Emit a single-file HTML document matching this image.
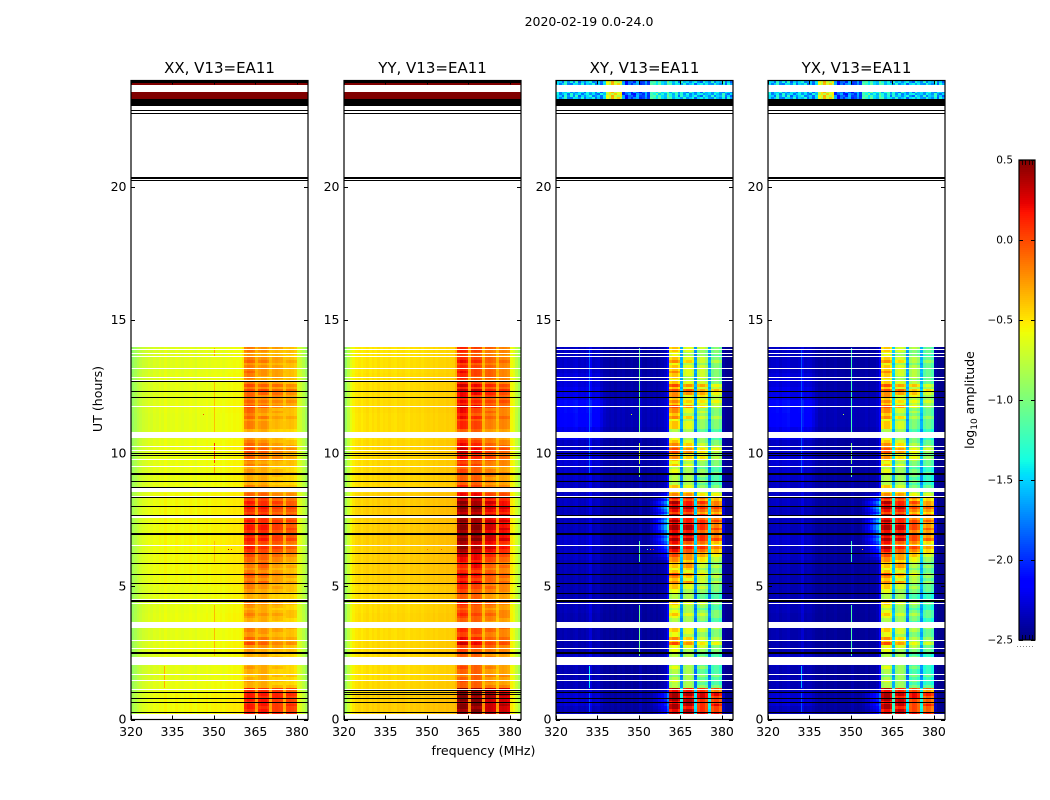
<!DOCTYPE html>
<html lang="en">
<head>
<meta charset="utf-8">
<title>2020-02-19 V13=EA11 waterfall</title>
<style>
html,body{margin:0;padding:0;background:#fff;width:1050px;height:800px;overflow:hidden}
svg{display:block}
text{font-family:"DejaVu Sans","Liberation Sans",sans-serif;fill:#000}
</style>
</head>
<body>
<svg id="figure" width="1050" height="800" viewBox="0 0 1050 800">
  <rect x="0" y="0" width="1050" height="800" fill="#fff"/>
  <text x="589" y="26" font-size="12.5" text-anchor="middle">2020-02-19 0.0-24.0</text>
  <text x="483.5" y="755" font-size="12.6" text-anchor="middle">frequency (MHz)</text>
  <text x="0" y="0" font-size="12.6" text-anchor="middle" transform="translate(102,399) rotate(-90)">UT (hours)</text>
  <text x="0" y="0" font-size="12.5" text-anchor="middle" transform="translate(974,400) rotate(-90)">log<tspan font-size="9" dy="3">10</tspan><tspan dy="-3"> amplitude</tspan></text>
  <g id="panels"></g>
  <g id="colorbar"></g>
</svg>
<script>
// ---- Tick labels ----
const xTicks = [320, 335, 350, 365, 380];
const yTicks = [0, 5, 10, 15, 20];
const colorbarTicks = [0.5, 0, -0.5, -1, -1.5, -2, -2.5];

// ---- Sub-band of each 1 MHz channel: -1 quiet, -2 gap between sub-bands, 0..3 sub-band ----
const channelBlock = [
 -1,-1,-1,-1,-1,-1,-1,-1,-1,-1,-1,-1,-1,-1,-1,-1,-1,-1,-1,-1,
 -1,-1,-1,-1,-1,-1,-1,-1,-1,-1,-1,-1,-1,-1,-1,-1,-1,-1,-1,-1,
 -1,0,0,0,0,-2,1,1,1,1,-2,2,2,2,2,-2,3,3,3,3,-1,-1,-1,-1];

// ---- Time-averaged spectrum (log10 amplitude) per channel ----
const spectrumXX = [
 -.88,-.82,-.76,-.72,-.68,-.66,-.63,-.66,-.62,-.64,
 -.60,-.63,-.58,-.62,-.60,-.61,-.58,-.60,-.62,-.59,
 -.60,-.58,-.60,-.62,-.58,-.60,-.59,-.57,-.60,-.58,
 -.57,-.58,-.56,-.58,-.56,-.55,-.56,-.54,-.55,-.54,
 -.50,-.60,-.54,-.56,-.60,-.46,-.58,-.54,-.54,-.60,
 -.50,-.60,-.58,-.60,-.62,-.52,-.62,-.60,-.62,-.66,
 -.64,-.68,-.76,-.86];
const spectrumYY = [
 -.88,-.74,-.60,-.53,-.49,-.47,-.50,-.47,-.45,-.48,
 -.45,-.47,-.44,-.47,-.45,-.46,-.44,-.46,-.47,-.44,
 -.45,-.44,-.46,-.47,-.44,-.45,-.44,-.43,-.45,-.43,
 -.42,-.43,-.41,-.43,-.41,-.41,-.42,-.40,-.41,-.40,
 -.34,-.40,-.34,-.36,-.40,-.46,-.38,-.34,-.36,-.40,
 -.48,-.46,-.44,-.46,-.50,-.50,-.48,-.46,-.48,-.52,
 -.54,-.60,-.72,-.84];
const spectrumXY = [
 -2.42,-2.40,-2.42,-2.38,-2.40,-2.42,-2.40,-2.38,-2.42,-2.40,
 -2.42,-2.38,-2.30,-2.42,-2.40,-2.38,-2.42,-2.44,-2.42,-2.44,
 -2.42,-2.45,-2.42,-2.44,-2.42,-2.45,-2.44,-2.42,-2.45,-2.44,
 -2.38,-2.44,-2.45,-2.42,-2.44,-2.42,-2.45,-2.42,-2.40,-2.36,
 -2.10,-1.48,-1.38,-1.38,-1.52,-1.92,-1.50,-1.42,-1.42,-1.54,
 -1.98,-1.58,-1.48,-1.50,-1.62,-1.95,-1.64,-1.55,-1.55,-1.68,
 -2.40,-2.45,-2.46,-2.46];
const spectrumYX = [
 -2.42,-2.40,-2.40,-2.38,-2.42,-2.40,-2.40,-2.38,-2.42,-2.42,
 -2.42,-2.40,-2.32,-2.42,-2.40,-2.40,-2.42,-2.44,-2.44,-2.44,
 -2.42,-2.45,-2.44,-2.44,-2.42,-2.45,-2.44,-2.44,-2.45,-2.44,
 -2.40,-2.44,-2.45,-2.44,-2.44,-2.42,-2.45,-2.42,-2.42,-2.38,
 -2.15,-1.50,-1.40,-1.40,-1.54,-1.80,-1.54,-1.46,-1.48,-1.60,
 -1.95,-1.66,-1.56,-1.58,-1.70,-1.90,-1.74,-1.64,-1.66,-1.78,
 -2.40,-2.45,-2.46,-2.46];

// ---- RFI strength (0-9) per 0.1 h row, hours 0 to 14, one array per sub-band ----
const levelsBlockA = [
 9,9,9,8,9,9,8,9,9,9, 8,9,3,3,4,3,2,3,3,4, 3,3,3,3,3,4,4,4,7,5, 6,4,4,5,5,4,3,3,4,5,
 4,3,4,5,4,3,3,4,4,5, 5,6,5,6,7,5,4,5,5,6, 6,7,7,8,9,7,8,9,8,9, 8,9,9,8,9,8,9,7,8,9,
 8,9,7,8,6,5,4,5,3,3, 3,3,4,4,3,5,4,5,6,5, 7,7,6,6,5,4,4,4,3,5, 5,5,4,6,5,6,6,7,5,6,
 5,6,6,7,5,7,5,4,5,5, 6,5,5,4,6,5,4,4,5,5];
const levelsBlockB = [
 9,9,9,9,8,9,9,9,8,9, 8,8,3,3,3,3,3,3,3,3, 3,3,3,3,3,3,3,4,6,5, 5,3,4,4,4,4,3,3,3,4,
 3,3,3,4,4,3,3,3,3,4, 4,6,4,5,6,4,5,6,6,5, 6,6,7,7,8,6,7,9,8,9, 8,9,9,8,8,8,9,7,8,9,
 8,8,7,8,6,5,3,4,3,3, 3,3,3,3,3,4,3,4,5,4, 6,6,5,5,4,3,3,3,3,4, 4,4,3,5,3,4,4,6,4,5,
 4,4,6,7,4,6,4,3,3,4, 4,4,4,3,5,4,3,3,4,4];
const levelsBlockC = [
 8,9,9,8,8,8,8,8,9,9, 8,8,3,2,3,2,3,2,2,3, 2,3,3,3,2,3,3,4,5,4, 4,3,3,4,4,3,2,3,3,4,
 3,2,3,4,3,2,2,3,3,4, 3,4,4,4,5,4,3,4,4,5, 5,6,6,7,8,6,7,8,8,8, 7,8,8,8,8,7,8,6,7,8,
 7,8,6,7,5,4,3,3,2,3, 2,3,3,3,2,3,3,4,5,4, 5,5,4,4,3,3,3,3,2,3, 3,3,3,4,3,4,3,5,4,5,
 4,5,6,6,4,6,4,3,4,4, 4,4,4,3,4,4,3,3,3,4];
const levelsBlockD = [
 8,8,9,8,8,9,8,8,8,9, 7,8,3,2,2,2,3,2,2,2, 2,2,3,2,2,3,3,3,5,4, 4,3,3,3,4,3,2,2,3,3,
 3,2,2,3,3,2,2,2,3,3, 3,4,3,4,4,3,3,4,3,4, 4,5,6,6,7,5,6,8,7,7, 7,8,7,7,8,7,8,6,7,8,
 7,7,6,6,5,4,2,3,2,2, 2,2,3,2,2,3,3,3,4,3, 4,5,4,3,3,2,2,3,2,3, 3,3,3,4,3,3,3,4,4,5,
 4,4,5,6,4,5,3,3,3,3, 3,3,3,3,4,3,2,3,3,3];

// ---- Slow drift of the quiet band per 0.5 h bin, hours 0 to 14 ----
const driftParallel = [.03,.03,0,-.02,-.02,0,-.02,0,-.01,0,.02,.03,.03,.04,.03,.04,.03,0,0,0,0,-.02,-.02,-.01,-.02,-.02,-.03,-.04];
const driftCross = [.06,.12,.05,.04,.08,.03,.03,.03,.05,.04,.04,.05,.08,.10,.06,.06,.08,.08,.10,.12,.08,.18,.26,.28,.18,.14,.10,.08];

// ---- How much each channel follows the drift ----
const driftWeightCross = [
 1,1,1,1,1,1.1,1.1,1.1,1,1, 1,1,1,1,1,.9,.7,.5,.3,.3,
 .3,.3,.3,.3,.3,.3,.3,.3,.3,.3, .3,.3,.3,.3,.3,.3,.3,.3,.3,.3,
 0,0,0,0,0,0,0,0,0,0, 0,0,0,0,0,0,0,0,0,0, 0,0,0,0];
const driftWeightParallel = [
 1,1,1,1,1,1,1,1,1,1, 1,1,1,1,1,1,1,1,1,1,
 1,1,1,1,1,1,1,1,1,1, 1,1,1,1,1,1,1,1,1,1,
 0,0,0,0,0,0,0,0,0,0, 0,0,0,0,0,0,0,0,0,0, 1,1,1,1];

// ---- Leakage into channels below the band during strong RFI ----
const tailCross = [
 0,0,0,0,0,0,0,0,0,0, 0,0,0,0,0,0,0,0,0,0,
 0,0,0,0,0,0,0,0,0,0, 0,0,0,0,.02,.04,.07,.10,.14,.18,
 .22,0,0,0,0,0,0,0,0,0, 0,0,0,0,0,0,0,0,0,0, .04,0,0,0];
const tailStrengthByHalfHour = [.3,.4,.1,0,0,0,0,0,0,0,0,.1,.5,.8,1,1,.8,.2,0,0,0,0,0,0,0,0,0,0];

// ---- Late-day calibrator scans, 23.3 to 24 h ----
const topSpectrumParallel = [
 .5,.5,.5,.5,.5,.5,.5,.5,.5,.5,.5,.5,.5,.5,.5,.5,.5,.5,.5,.5,.5,.5,.5,.5,.5,.5,.5,.5,.5,.5,.5,.5,
 .5,.5,.5,.5,.5,.5,.5,.5,.5,.5,.5,.5,.5,.5,.5,.5,.5,.5,.5,.5,.5,.5,.5,.5,.5,.5,.5,.5,.5,.5,.5,.5];
const topSpectrumCross = [
 -1.6,-1.55,-1.6,-1.5,-1.6,-1.55,-1.6,-1.5,-1.6,-1.55,-1.6,-1.6,-1.55,-1.6,-1.65,-1.6,-1.6,-1.6,
 -.62,-.6,-.55,-.62,-.6,-.65,
 -1.85,-1.9,-1.85,-1.9,-1.85,-1.8,-1.85,-1.9,-1.8,-1.75,
 -1.3,-1.35,-1.3,-1.35,-1.4,-1.35,-1.3,-1.4,-1.4,-1.45,
 -1.55,-1.5,-1.55,-1.6,-1.5,-1.55,-1.6,-1.55,-1.6,-1.5,-1.55,-1.6,-1.5,-1.55,-1.6,-1.55,-1.5,-1.6,-1.55,-1.6];
const topNoise = [
 .2,-.3,.1,.35,-.2,-.35,.25,.05,-.15,.3,-.3,.15,-.05,.35,-.25,.1,-.35,.2,
 .05,-.3,.3,-.1,.25,-.2,.35,-.35,.1,-.15,.2,.3,-.25,-.05,.15,-.3,
 .25,.1,-.2,.35,-.1,-.35,.2,.3,-.3,.05,.15,-.25,.35,-.15,-.05,.25,
 -.35,.1,.3,-.2,.2,-.1,-.3,.35,.05,-.25,.15,-.35,.3,-.05];
const topShifts = [0,17,41,9,29,52,23];

// ---- Hours with no data (white) and flagged scans (black) ----
const whiteLines = [13.93,13.78,13.64,13.21,12.88,12.76,11.79,10.29,10.14,9.80,9.53,8.41,6.57,4.52,4.39,3.00,2.70,1.71,1.16];
const whiteBands = [[10.59,10.78],[8.54,8.69],[7.58,7.65],[3.45,3.65],[2.05,2.35],[1.45,1.49],[0,0.2]];
const blackLinesParallel = [12.70,12.35,12.10,10.00,9.93,9.27,9.22,8.94,8.72,8.36,8.01,7.67,7.38,7.01,6.95,6.24,5.87,5.45,5.11,4.74,1.02,0.80,0.65,0.29];
const blackLinesCross = [12.35,12.10,10.00,9.93,9.27,9.22,8.94,8.36,8.01,7.67,7.38,7.01,6.95,6.24,5.87,5.45,5.11,4.74,1.02,0.80,0.65,0.29];
const blackLinesExtraYY = [1.10,0.95];
const blackBands = [[4.41,4.47],[2.47,2.54],[23.05,23.29],[20.30,20.37],[20.21,20.26],[22.86,22.90],[22.75,22.78]];
const topParallelBands = [[23.83,23.92],[23.29,23.58]];
const topCrossBands = [[23.83,23.99],[23.29,23.58]];
const topBlackParallel = [[23.91,24]];
const calibrationLine = [0.22];

// ---- Narrow-band spikes: channel, start hour, end hour, log10 amplitude ----
const spikesXX = [[30,9.65,10.4,.05],[30,9.2,9.55,-.28],[30,10.8,12.75,-.38],[30,13.6,13.97,-.3],[30,5.9,6.7,-.38],[30,2.4,4.3,-.36],[12,1.2,2,-.34],[26,11.42,11.48,0],[35,6.35,6.42,.38],[36,6.35,6.42,.1]];
const spikesYY = [[35,6.35,6.42,-.1],[30,6.35,6.42,-.15]];
const spikesXY = [[30,10.8,13.95,-1.05],[30,9.6,10.4,-.75],[30,9.1,9.5,-.95],[30,2.4,4.3,-1.05],[30,5.9,6.7,-1.1],[12,9.2,13.9,-1.85],[12,1.2,2,-1.45],[12,0.3,1,-1.9],[27,11.42,11.48,-.6],[34,6.35,6.42,-.1],[33,6.35,6.42,-1.2],[35,6.35,6.42,.2]];
const spikesYX = [[30,10.8,13.95,-1.2],[30,9.6,10.4,-.95],[30,9.1,9.5,-1.1],[30,2.4,4.3,-1.15],[30,5.9,6.7,-1.2],[12,9.2,13.9,-1.9],[12,1.2,2,-1.6],[12,0.3,1,-1.9],[27,11.42,11.48,-.8],[34,6.35,6.42,-.4]];

// ---- Panels ----
const panels = [
 {key:'xx', title:'XX, V13=EA11', left:131, spectrum:spectrumXX, slope:.08, drift:driftParallel, driftWeight:driftWeightParallel, tail:null, top:topSpectrumParallel, noise:0, topBands:topParallelBands, topBlack:topBlackParallel, black:blackLinesParallel, spikes:spikesXX},
 {key:'yy', title:'YY, V13=EA11', left:344, spectrum:spectrumYY, slope:.095, drift:driftParallel, driftWeight:driftWeightParallel, tail:null, top:topSpectrumParallel, noise:0, topBands:topParallelBands, topBlack:topBlackParallel, black:blackLinesParallel.concat(blackLinesExtraYY), spikes:spikesYY},
 {key:'xy', title:'XY, V13=EA11', left:556, spectrum:spectrumXY, slope:.2, drift:driftCross, driftWeight:driftWeightCross, tail:tailCross, top:topSpectrumCross, noise:.7, topBands:topCrossBands, topBlack:[], black:blackLinesCross, spikes:spikesXY},
 {key:'yx', title:'YX, V13=EA11', left:768, spectrum:spectrumYX, slope:.2, drift:driftCross, driftWeight:driftWeightCross, tail:tailCross, top:topSpectrumCross, noise:.7, topBands:topCrossBands, topBlack:[], black:blackLinesCross, spikes:spikesYX}
];
const levelsByBlock = [levelsBlockA, levelsBlockB, levelsBlockC, levelsBlockD];

// ---- Axis functions ----
const NS = 'http://www.w3.org/2000/svg';
const panelWidth = 177, plotTop = 80.5, plotBottom = 719.5;
const mhzMin = 320, mhzMax = 384, hourMax = 24;
const xScale = (panel, mhz) => panel.left + (mhz - mhzMin) / (mhzMax - mhzMin) * panelWidth;
const yScale = h => plotBottom - h / hourMax * (plotBottom - plotTop);
const vMin = -2.5, vMax = 0.5;

function ramp(t, pts) {
  for (let i = 1; i < pts.length; i++) {
    if (t <= pts[i][0]) {
      const a = pts[i - 1], b = pts[i];
      return a[1] + (b[1] - a[1]) * (t - a[0]) / (b[0] - a[0]);
    }
  }
  return pts[pts.length - 1][1];
}
function jet(v) {
  const t = Math.max(0, Math.min(1, (v - vMin) / (vMax - vMin)));
  const r = ramp(t, [[0,0],[.35,0],[.66,1],[.89,1],[1,.5]]);
  const g = ramp(t, [[0,0],[.125,0],[.375,1],[.64,1],[.91,0],[1,0]]);
  const b = ramp(t, [[0,.5],[.11,1],[.34,1],[.65,0],[1,0]]);
  return 'rgb(' + Math.round(r * 255) + ',' + Math.round(g * 255) + ',' + Math.round(b * 255) + ')';
}
function cellValue(panel, row, ch) {
  const block = channelBlock[ch];
  const base = panel.spectrum[ch];
  if (block >= 0) return base + panel.slope * levelsByBlock[block][row];
  if (block === -2) return base + 0.3 * panel.slope * levelsBlockA[row];
  const bin = Math.floor(row / 5);
  let v = base + panel.drift[bin] * panel.driftWeight[ch];
  if (panel.tail) v += panel.tail[ch] * tailStrengthByHalfHour[bin] * Math.max(0, levelsBlockA[row] - 5);
  return v;
}
function rectBetween(el, x0, x1, y0, y1, fill) {
  const ax = Math.round(x0), bx = Math.round(x1), ay = Math.round(y0), by = Math.round(y1);
  el.setAttribute('x', ax);
  el.setAttribute('y', ay);
  el.setAttribute('width', Math.max(1, bx - ax));
  el.setAttribute('height', Math.max(1, by - ay));
  el.setAttribute('fill', fill);
}

const panelsRoot = document.getElementById('panels');
panels.forEach(function (panel) {
  const left = xScale(panel, mhzMin), right = xScale(panel, mhzMax);
  const g = document.createElementNS(NS, 'g');
  
  

  const heat = document.createElementNS(NS, 'g');
  
  
  heat.setAttribute('shape-rendering', 'crispEdges');

  // Main cells: hours 0 to 14
  for (let row = 0; row < levelsBlockA.length; row++) {
    const h0 = row * 0.1, h1 = h0 + 0.1;
    for (let ch = 0; ch < panel.spectrum.length; ch++) {
      const cell = document.createElementNS(NS, 'rect');
      
      
      rectBetween(cell, xScale(panel, mhzMin + ch), xScale(panel, mhzMin + ch + 1), yScale(h1), yScale(h0), jet(cellValue(panel, row, ch)));
      heat.appendChild(cell);
    }
  }
  // Late-day scans
  panel.topBands.forEach(function (band) {
    let shiftIndex = 0;
    for (let h = band[0]; h < band[1] - 0.001; h += 0.08) {
      const shift = topShifts[shiftIndex++ % topShifts.length];
      const hEnd = Math.min(band[1], h + 0.08);
      for (let ch = 0; ch < panel.top.length; ch++) {
        const cell = document.createElementNS(NS, 'rect');
        
        
        const v = panel.top[ch] + panel.noise * topNoise[(ch + shift) % topNoise.length];
        rectBetween(cell, xScale(panel, mhzMin + ch), xScale(panel, mhzMin + ch + 1), yScale(hEnd), yScale(h), jet(v));
        heat.appendChild(cell);
      }
    }
  });
  // Spikes
  panel.spikes.forEach(function (s) {
    const spike = document.createElementNS(NS, 'rect');
    
    
    rectBetween(spike, xScale(panel, mhzMin + s[0]), xScale(panel, mhzMin + s[0]) + 1, yScale(s[2]), yScale(s[1]), jet(s[3]));
    heat.appendChild(spike);
  });
  // Calibration line
  calibrationLine.forEach(function (h) {
    const line = document.createElementNS(NS, 'rect');
    
    
    rectBetween(line, left, right, yScale(h), yScale(h) + 1, jet(-2));
    heat.appendChild(line);
  });
  // White gaps
  whiteLines.forEach(function (h) {
    const gap = document.createElementNS(NS, 'rect');
    
    
    rectBetween(gap, left, right, yScale(h), yScale(h) + 1, '#fff');
    heat.appendChild(gap);
  });
  whiteBands.forEach(function (b) {
    const gap = document.createElementNS(NS, 'rect');
    
    
    rectBetween(gap, left, right, yScale(b[1]), yScale(b[0]), '#fff');
    heat.appendChild(gap);
  });
  // Black flags
  panel.black.forEach(function (h) {
    const flag = document.createElementNS(NS, 'rect');
    
    
    rectBetween(flag, left, right, yScale(h), yScale(h) + 1, '#000');
    heat.appendChild(flag);
  });
  blackBands.concat(panel.topBlack).forEach(function (b) {
    const flag = document.createElementNS(NS, 'rect');
    
    
    rectBetween(flag, left, right, yScale(b[1]), yScale(b[0]), '#000');
    heat.appendChild(flag);
  });
  g.appendChild(heat);

  // X ticks and labels
  xTicks.forEach(function (t) {
    const x = Math.round(xScale(panel, t)) + 0.5;
    [[plotBottom, plotBottom - 4], [plotTop, plotTop + 4]].forEach(function (p) {
      const tick = document.createElementNS(NS, 'line');
      
      
      tick.setAttribute('x1', x); tick.setAttribute('x2', x);
      tick.setAttribute('y1', p[0]); tick.setAttribute('y2', p[1]);
      tick.setAttribute('stroke', '#000');
      g.appendChild(tick);
    });
    const label = document.createElementNS(NS, 'text');
    
    
    label.setAttribute('x', xScale(panel, t));
    label.setAttribute('y', 736);
    label.setAttribute('font-size', '12.5');
    label.setAttribute('text-anchor', 'middle');
    label.textContent = String(t);
    g.appendChild(label);
  });
  // Y ticks and labels
  yTicks.forEach(function (t) {
    const y = Math.round(yScale(t)) + 0.5;
    [[left, left + 4], [right, right - 4]].forEach(function (p) {
      const tick = document.createElementNS(NS, 'line');
      
      
      tick.setAttribute('x1', p[0]); tick.setAttribute('x2', p[1]);
      tick.setAttribute('y1', y); tick.setAttribute('y2', y);
      tick.setAttribute('stroke', '#000');
      g.appendChild(tick);
    });
    const label = document.createElementNS(NS, 'text');
    
    
    label.setAttribute('x', left - 4.5);
    label.setAttribute('y', yScale(t) + 4);
    label.setAttribute('font-size', '12.5');
    label.setAttribute('text-anchor', 'end');
    label.textContent = String(t);
    g.appendChild(label);
  });
  // Frame
  const frame = document.createElementNS(NS, 'rect');
  
  
  frame.setAttribute('x', left);
  frame.setAttribute('y', plotTop);
  frame.setAttribute('width', panelWidth);
  frame.setAttribute('height', plotBottom - plotTop);
  frame.setAttribute('fill', 'none');
  frame.setAttribute('stroke', '#000');
  frame.setAttribute('stroke-width', '1.2');
  g.appendChild(frame);
  // Title
  const title = document.createElementNS(NS, 'text');
  
  
  title.setAttribute('x', left + panelWidth / 2);
  title.setAttribute('y', 73);
  title.setAttribute('font-size', '15');
  title.setAttribute('text-anchor', 'middle');
  title.textContent = panel.title;
  g.appendChild(title);

  panelsRoot.appendChild(g);
});

// ---- Colorbar ----
const cbarLeft = 1019, cbarRight = 1035, cbarTop = 160, cbarBottom = 640;
const cbarScale = v => cbarBottom - (v - vMin) / (vMax - vMin) * (cbarBottom - cbarTop);
const cbarRoot = document.getElementById('colorbar');
const cbarSteps = 240;
for (let i = 0; i < cbarSteps; i++) {
  const v0 = vMin + (vMax - vMin) * i / cbarSteps;
  const v1 = vMin + (vMax - vMin) * (i + 1) / cbarSteps;
  const seg = document.createElementNS(NS, 'rect');
  
  
  seg.setAttribute('shape-rendering', 'crispEdges');
  rectBetween(seg, cbarLeft, cbarRight, cbarScale(v1), cbarScale(v0), jet((v0 + v1) / 2));
  cbarRoot.appendChild(seg);
}
colorbarTicks.forEach(function (t) {
  const y = Math.round(cbarScale(t)) + 0.5;
  [[cbarLeft, cbarLeft + 4], [cbarRight, cbarRight - 4]].forEach(function (p) {
    const tick = document.createElementNS(NS, 'line');
    
    
    tick.setAttribute('x1', p[0]); tick.setAttribute('x2', p[1]);
    tick.setAttribute('y1', y); tick.setAttribute('y2', y);
    tick.setAttribute('stroke', '#000');
    cbarRoot.appendChild(tick);
  });
  const label = document.createElementNS(NS, 'text');
  
  
  label.setAttribute('x', cbarLeft - 6);
  label.setAttribute('y', cbarScale(t) + 3.5);
  label.setAttribute('font-size', '10.5');
  label.setAttribute('text-anchor', 'end');
  label.textContent = t.toFixed(1).replace('-', '\u2212');
  cbarRoot.appendChild(label);
});
const cbarEdgeTicks = [0.2, 0.4, 0.6, 0.8];
cbarEdgeTicks.forEach(function (f) {
  const x = Math.round(cbarLeft + f * (cbarRight - cbarLeft)) + 0.5;
  [[cbarTop, cbarTop + 5], [cbarBottom, cbarBottom - 5]].forEach(function (p) {
    const tick = document.createElementNS(NS, 'line');
    
    
    tick.setAttribute('x1', x); tick.setAttribute('x2', x);
    tick.setAttribute('y1', p[0]); tick.setAttribute('y2', p[1]);
    tick.setAttribute('stroke', '#000');
    tick.setAttribute('stroke-opacity', '.8');
    cbarRoot.appendChild(tick);
  });
});
const cbarFrame = document.createElementNS(NS, 'rect');


cbarFrame.setAttribute('x', cbarLeft);
cbarFrame.setAttribute('y', cbarTop);
cbarFrame.setAttribute('width', cbarRight - cbarLeft);
cbarFrame.setAttribute('height', cbarBottom - cbarTop);
cbarFrame.setAttribute('fill', 'none');
cbarFrame.setAttribute('stroke', '#000');
cbarFrame.setAttribute('stroke-width', '1.2');
cbarRoot.appendChild(cbarFrame);
const cbarDots = document.createElementNS(NS, 'line');


cbarDots.setAttribute('x1', 1017);
cbarDots.setAttribute('x2', 1035);
cbarDots.setAttribute('y1', 646.5);
cbarDots.setAttribute('y2', 646.5);
cbarDots.setAttribute('stroke', '#888');
cbarDots.setAttribute('stroke-dasharray', '1 2');
cbarRoot.appendChild(cbarDots);
</script>
</body>
</html>
